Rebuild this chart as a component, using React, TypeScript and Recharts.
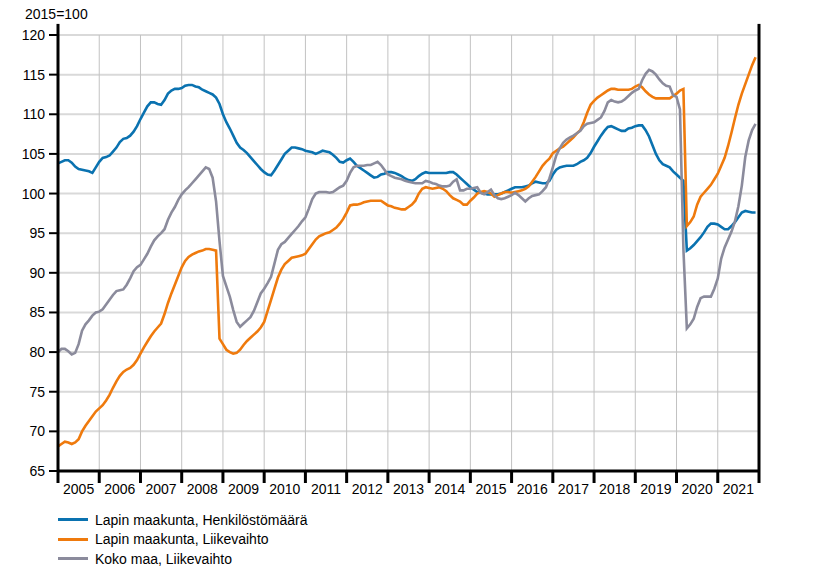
import {LineChart, Line, XAxis, YAxis, CartesianGrid, ReferenceLine} from 'recharts';

const years = ['2005', '2006', '2007', '2008', '2009', '2010', '2011', '2012', '2013', '2014', '2015', '2016', '2017', '2018', '2019', '2020', '2021'];
const yTicks = [65, 70, 75, 80, 85, 90, 95, 100, 105, 110, 115, 120];

// Lapin maakunta, Henkilöstömäärä (monthly, 2015=100)
const henkilostomaara = [
    103.8, 104.0, 104.2, 104.2, 103.9, 103.4, 103.1, 103.0, 102.9, 102.8, 102.6, 103.3,
    104.0, 104.5, 104.6, 104.8, 105.3, 105.8, 106.5, 106.9, 107.0, 107.3, 107.8, 108.5,
    109.4, 110.2, 111.0, 111.5, 111.5, 111.3, 111.2, 111.8, 112.6, 113.0, 113.2, 113.2,
    113.3, 113.6, 113.7, 113.7, 113.5, 113.4, 113.1, 112.9, 112.7, 112.5, 112.1, 111.3,
    110.0, 109.0, 108.2, 107.3, 106.4, 105.8, 105.5, 105.1, 104.6, 104.1, 103.6, 103.1,
    102.7, 102.4, 102.3, 102.9, 103.6, 104.3, 105.0, 105.4, 105.8, 105.8, 105.7, 105.6,
    105.4, 105.3, 105.2, 105.0, 105.2, 105.4, 105.3, 105.2, 104.9, 104.5, 104.0, 103.9,
    104.2, 104.4, 104.0, 103.5, 103.2, 102.9, 102.6, 102.3, 102.0, 102.1, 102.4, 102.5,
    102.7, 102.7, 102.6, 102.4, 102.2, 101.9, 101.7, 101.6, 101.8, 102.2, 102.5, 102.7,
    102.6, 102.6, 102.6, 102.6, 102.6, 102.6, 102.7, 102.7, 102.4, 102.0, 101.6, 101.2,
    100.8, 100.5, 100.2, 100.1, 100.0, 99.9, 99.9, 99.9, 99.9, 100.0, 100.2, 100.4,
    100.6, 100.8, 100.8, 100.8, 100.9, 101.0, 101.3, 101.5, 101.4, 101.3, 101.3, 101.6,
    102.4, 103.0, 103.3, 103.4, 103.5, 103.5, 103.5, 103.7, 104.0, 104.2, 104.5, 105.1,
    105.9, 106.6, 107.3, 107.9, 108.4, 108.5, 108.3, 108.1, 107.9, 107.9, 108.2, 108.3,
    108.5, 108.6, 108.6, 108.0, 107.2, 106.1, 105.0, 104.2, 103.7, 103.5, 103.3, 102.8,
    102.4, 102.0, 101.6, 92.8, 93.1, 93.5, 94.0, 94.5, 95.1, 95.8, 96.2, 96.2,
    96.1, 95.8, 95.5, 95.5, 95.9, 96.4, 97.0, 97.6, 97.8, 97.7, 97.6, 97.6,
];

// Lapin maakunta, Liikevaihto
const lapinLiikevaihto = [
    68.1, 68.4, 68.7, 68.6, 68.4, 68.6, 69.0, 70.0, 70.7, 71.3, 71.9, 72.5,
    72.9, 73.3, 73.9, 74.6, 75.5, 76.3, 77.0, 77.5, 77.8, 78.0, 78.4, 79.0,
    79.8, 80.6, 81.3, 82.0, 82.6, 83.1, 83.6, 84.8, 86.2, 87.4, 88.5, 89.6,
    90.7, 91.5, 92.0, 92.3, 92.5, 92.7, 92.8, 93.0, 93.0, 92.9, 92.8, 81.7,
    81.0, 80.3, 80.0, 79.8, 79.9, 80.3, 80.9, 81.4, 81.8, 82.2, 82.6, 83.1,
    83.8, 85.2, 86.6, 88.0, 89.4, 90.4, 91.1, 91.5, 91.9, 92.0, 92.1, 92.2,
    92.4, 93.0, 93.6, 94.2, 94.6, 94.8, 95.0, 95.1, 95.4, 95.7, 96.2, 96.8,
    97.6, 98.5, 98.6, 98.6, 98.7, 98.9, 99.0, 99.1, 99.1, 99.1, 99.1, 98.8,
    98.5, 98.4, 98.2, 98.1, 98.0, 98.0, 98.3, 98.6, 99.1, 100.0, 100.6, 100.8,
    100.7, 100.6, 100.7, 100.8, 100.6, 100.3, 99.8, 99.4, 99.2, 99.0, 98.6, 98.6,
    99.1, 99.5, 100.0, 100.2, 100.3, 100.2, 100.0, 99.6, 99.8, 100.0, 100.2, 100.2,
    100.1, 100.2, 100.3, 100.4, 100.6, 100.9, 101.5, 102.1, 102.8, 103.5, 104.0, 104.4,
    105.1, 105.4, 105.7, 105.9, 106.3, 106.7, 107.1, 107.6, 108.0, 109.0, 110.2, 111.2,
    111.7, 112.1, 112.4, 112.7, 113.0, 113.2, 113.2, 113.1, 113.1, 113.1, 113.1, 113.2,
    113.5, 113.7, 113.4, 112.9, 112.5, 112.2, 112.0, 112.0, 112.0, 112.0, 112.0, 112.3,
    112.6, 113.0, 113.2, 95.9, 96.4, 97.1, 98.6, 99.6, 100.1, 100.6, 101.1, 101.8,
    102.5, 103.5, 104.5, 106.0, 107.7, 109.5, 111.2, 112.6, 113.8, 115.0, 116.2, 117.2,
];

// Koko maa, Liikevaihto
const kokoMaaLiikevaihto = [
    80.0, 80.4, 80.4, 80.1, 79.7, 79.9, 81.0, 82.7, 83.5, 84.0, 84.6, 85.0,
    85.1, 85.4, 86.0, 86.6, 87.2, 87.7, 87.8, 87.9, 88.5, 89.3, 90.2, 90.7,
    91.0, 91.7, 92.4, 93.3, 94.1, 94.6, 95.0, 95.5, 96.7, 97.6, 98.3, 99.2,
    99.9, 100.4, 100.8, 101.3, 101.8, 102.3, 102.8, 103.3, 103.1, 102.0, 99.0, 94.0,
    89.6, 88.3, 87.0, 85.3, 83.8, 83.2, 83.6, 84.0, 84.4, 85.2, 86.3, 87.4,
    88.0, 88.7, 89.5, 91.2, 92.9, 93.6, 93.9, 94.4, 94.9, 95.4, 95.9, 96.5,
    97.0, 98.1, 99.3, 100.0, 100.2, 100.2, 100.2, 100.1, 100.2, 100.5, 100.8, 101.0,
    101.6, 102.6, 103.3, 103.5, 103.5, 103.5, 103.6, 103.6, 103.8, 104.0, 103.6, 103.0,
    102.4, 102.2, 102.0, 101.9, 101.8, 101.6, 101.5, 101.4, 101.3, 101.3, 101.3, 101.6,
    101.5, 101.3, 101.2, 101.0, 100.9, 100.9, 101.0, 101.5, 101.8, 100.4, 100.4, 100.6,
    100.6, 100.7, 100.8, 100.1, 99.9, 100.2, 100.5, 99.8, 99.4, 99.3, 99.4, 99.6,
    99.8, 100.1, 99.8, 99.4, 99.0, 99.4, 99.7, 99.8, 99.9, 100.3, 100.8, 101.9,
    103.3, 104.8, 105.7, 106.4, 106.8, 107.1, 107.3, 107.6, 107.9, 108.5, 108.8, 108.9,
    109.0, 109.3, 109.6, 110.4, 111.5, 111.8, 111.6, 111.5, 111.6, 111.9, 112.3, 112.7,
    113.0, 113.2, 114.3, 115.1, 115.6, 115.4, 115.0, 114.4, 113.9, 113.6, 113.5, 112.4,
    112.2, 110.6, 93.0, 83.0, 83.5, 84.2, 85.7, 86.8, 87.0, 87.0, 87.0, 88.0,
    89.3, 91.8, 93.2, 94.2, 95.2, 96.5, 98.4, 101.0, 104.6, 106.7, 108.0, 108.8,
];

const data = henkilostomaara.map((v, i) => ({
    m: i,
    henk: v,
    lapinLv: lapinLiikevaihto[i],
    kokoLv: kokoMaaLiikevaihto[i],
}));

const xTicks = years.map((_, i) => i * 12).concat([years.length * 12]);

const W = 813;
const H = 568;
const LEFT_W = 58;
const RIGHT_W = 54;
const PLOT_W = W - LEFT_W - RIGHT_W;
const YEAR_PX = PLOT_W / years.length;
const FONT = '"Liberation Sans", Arial, sans-serif';

const series = [
    {key: 'henk', name: 'Lapin maakunta, Henkilöstömäärä', color: '#0a72b0'},
    {key: 'lapinLv', name: 'Lapin maakunta, Liikevaihto', color: '#ef7a0d'},
    {key: 'kokoLv', name: 'Koko maa, Liikevaihto', color: '#8b8b9c'},
];

function YearTick(props: any) {
    const {x, y, payload} = props;
    const idx = Math.round(payload.value / 12);
    return (
        <g>
            <line x1={x} x2={x} y1={y} y2={y + 12} stroke='#000' strokeWidth={3} />
            {idx < years.length && (
                <text x={x + YEAR_PX / 2} y={y + 18} textAnchor='middle' dominantBaseline='central'
                      fontSize={14} fill='#000' fontFamily={FONT}>
                    {years[idx]}
                </text>
            )}
        </g>
    );
}

export default function App() {
    return (
        <div style={{position: 'absolute', left: 0, top: 0, width: W, height: H, background: '#fff', fontFamily: FONT}}>
            <div style={{position: 'absolute', left: 25, top: 6, fontSize: 14, color: '#000'}}>2015=100</div>
            <LineChart width={W} height={H} data={data}
                       margin={{top: 35, right: 0, bottom: 67, left: 0}}
                       style={{fontFamily: FONT}}>
                <CartesianGrid yAxisId='left' vertical={false} stroke='#d9d9d9' strokeWidth={2} />
                <CartesianGrid yAxisId='left' horizontal={false} stroke='#c2c2c2' strokeWidth={1} />
                <XAxis dataKey='m' type='number' domain={[0, years.length * 12]} ticks={xTicks}
                       interval={0} height={30} tickSize={0} tickMargin={0} tickLine={false}
                       axisLine={{stroke: '#000', strokeWidth: 3}} tick={<YearTick />} />
                <YAxis yAxisId='left' domain={[65, 120]} ticks={yTicks} width={LEFT_W}
                       tickSize={9} tickMargin={4} interval={0}
                       axisLine={{stroke: '#000', strokeWidth: 3}}
                       tickLine={{stroke: '#000', strokeWidth: 2}}
                       tick={{fontSize: 14, fill: '#000'}} />
                <YAxis yAxisId='right' orientation='right' domain={[65, 120]} ticks={yTicks} width={RIGHT_W}
                       tickSize={9} tickMargin={4} interval={0}
                       axisLine={{stroke: '#000', strokeWidth: 3}}
                       tickLine={{stroke: '#000', strokeWidth: 2}}
                       tick={{fontSize: 14, fill: '#000', textAnchor: 'start'}} />
                <ReferenceLine yAxisId='left' ifOverflow='visible' stroke='#000' strokeWidth={3}
                               segment={[{x: 0, y: 120}, {x: 0, y: 121.4}]} />
                <ReferenceLine yAxisId='left' ifOverflow='visible' stroke='#000' strokeWidth={3}
                               segment={[{x: years.length * 12, y: 120}, {x: years.length * 12, y: 121.4}]} />
                {series.map((s) => (
                    <Line key={s.key} yAxisId='left' type='linear' dataKey={s.key} name={s.name}
                          stroke={s.color} strokeWidth={2.6} dot={false} activeDot={false}
                          isAnimationActive={false} />
                ))}
            </LineChart>
            <div style={{position: 'absolute', left: 58, top: 510, fontSize: 14, color: '#000'}}>
                {series.map((s) => (
                    <div key={s.key} style={{display: 'flex', alignItems: 'center', height: 19.5}}>
                        <span style={{display: 'inline-block', width: 30, height: 3, background: s.color, marginRight: 7}} />
                        <span>{s.name}</span>
                    </div>
                ))}
            </div>
        </div>
    );
}
